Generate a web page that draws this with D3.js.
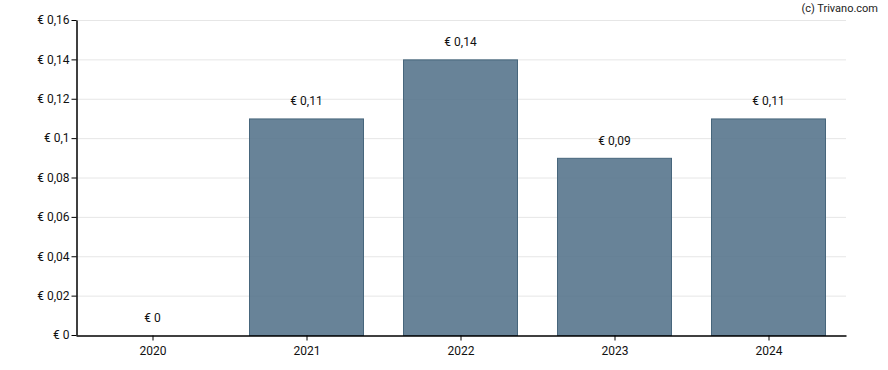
<!DOCTYPE html>
<html>
<head>
<meta charset="utf-8">
<script src="https://cdn.jsdelivr.net/npm/d3@7"></script>
<style>
  body { margin: 0; background: #fff; }
  text { font-family: Roboto, "Noto Sans", sans-serif; }
</style>
</head>
<body>
<div id="chart"></div>
<script>
const width = 888;
const height = 370;
const margin = { top: 20, right: 42, bottom: 35, left: 76 };

// data
const years = ["2020", "2021", "2022", "2023", "2024"];
const dividends = [0, 0.11, 0.14, 0.09, 0.11];
const yTicks = [0, 0.02, 0.04, 0.06, 0.08, 0.1, 0.12, 0.14, 0.16];

const fmt = (v) => "€ " + String(+v.toFixed(2)).replace(".", ",");

const svg = d3
  .select("#chart")
  .append("svg")
  .attr("width", width)
  .attr("height", height);

const xScale = d3
  .scaleBand()
  .domain(years)
  .range([margin.left, width - margin.right])
  .paddingInner(0.26)
  .paddingOuter(0.13);

const yScale = d3
  .scaleLinear()
  .domain([0, 0.16])
  .range([height - margin.bottom, margin.top]);

// gridlines
svg
  .append("g")
  .selectAll("line")
  .data(yTicks.slice(1))
  .enter()
  .append("line")
  .attr("x1", margin.left)
  .attr("x2", width - margin.right)
  .attr("y1", (d) => yScale(d) + 0.5)
  .attr("y2", (d) => yScale(d) + 0.5)
  .attr("stroke", "#e6e6e6")
  .attr("stroke-width", 1);

// bars
const data = years.map((y, i) => ({ year: y, value: dividends[i] }));

svg
  .selectAll("rect.bar")
  .data(data.filter((d) => d.value > 0))
  .enter()
  .append("rect")
  .attr("class", "bar")
  .attr("x", (d) => Math.round(xScale(d.year)) - 0.5)
  .attr("y", (d) => yScale(d.value) + 0.5)
  .attr("width", Math.round(xScale.bandwidth()))
  .attr("height", (d) => yScale(0) - yScale(d.value))
  .attr("fill", "#53728a")
  .attr("fill-opacity", 0.88)
  .attr("stroke", "#47667c")
  .attr("stroke-width", 1);

// value labels
svg
  .selectAll("text.val")
  .data(data)
  .enter()
  .append("text")
  .attr("class", "val")
  .attr("x", (d) => xScale(d.year) + xScale.bandwidth() / 2 - 0.5)
  .attr("y", (d) => yScale(d.value) - 13)
  .attr("text-anchor", "middle")
  .attr("font-size", 12)
  .attr("fill", "#111")
  .text((d) => fmt(d.value));

// axes
const xAxis = d3.axisBottom(xScale).tickSize(5).tickSizeOuter(0);
const yAxis = d3
  .axisLeft(yScale)
  .tickValues(yTicks)
  .tickSize(5)
  .tickSizeOuter(0)
  .tickFormat(fmt);

const gx = svg
  .append("g")
  .attr("transform", "translate(0," + (yScale(0) + 0.5) + ")")
  .call(xAxis);
gx.selectAll("text").attr("font-size", 12).attr("fill", "#111").attr("dy", "0.95em");
gx.select(".domain").attr("stroke", "#000").attr("stroke-width", 1.5);

const gy = svg
  .append("g")
  .attr("transform", "translate(" + (margin.left + 0.5) + ",0)")
  .call(yAxis);
gy.selectAll("text").attr("font-size", 12).attr("fill", "#111").attr("x", -7);
gy.select(".domain").attr("stroke", "#000").attr("stroke-width", 1.5);

svg.selectAll(".tick line").attr("stroke", "#000");

// copyright
svg
  .append("text")
  .attr("x", 878)
  .attr("y", 12)
  .attr("text-anchor", "end")
  .attr("font-size", 11)
  .attr("fill", "#222")
  .text("(c) Trivano.com");
</script>
</body>
</html>
